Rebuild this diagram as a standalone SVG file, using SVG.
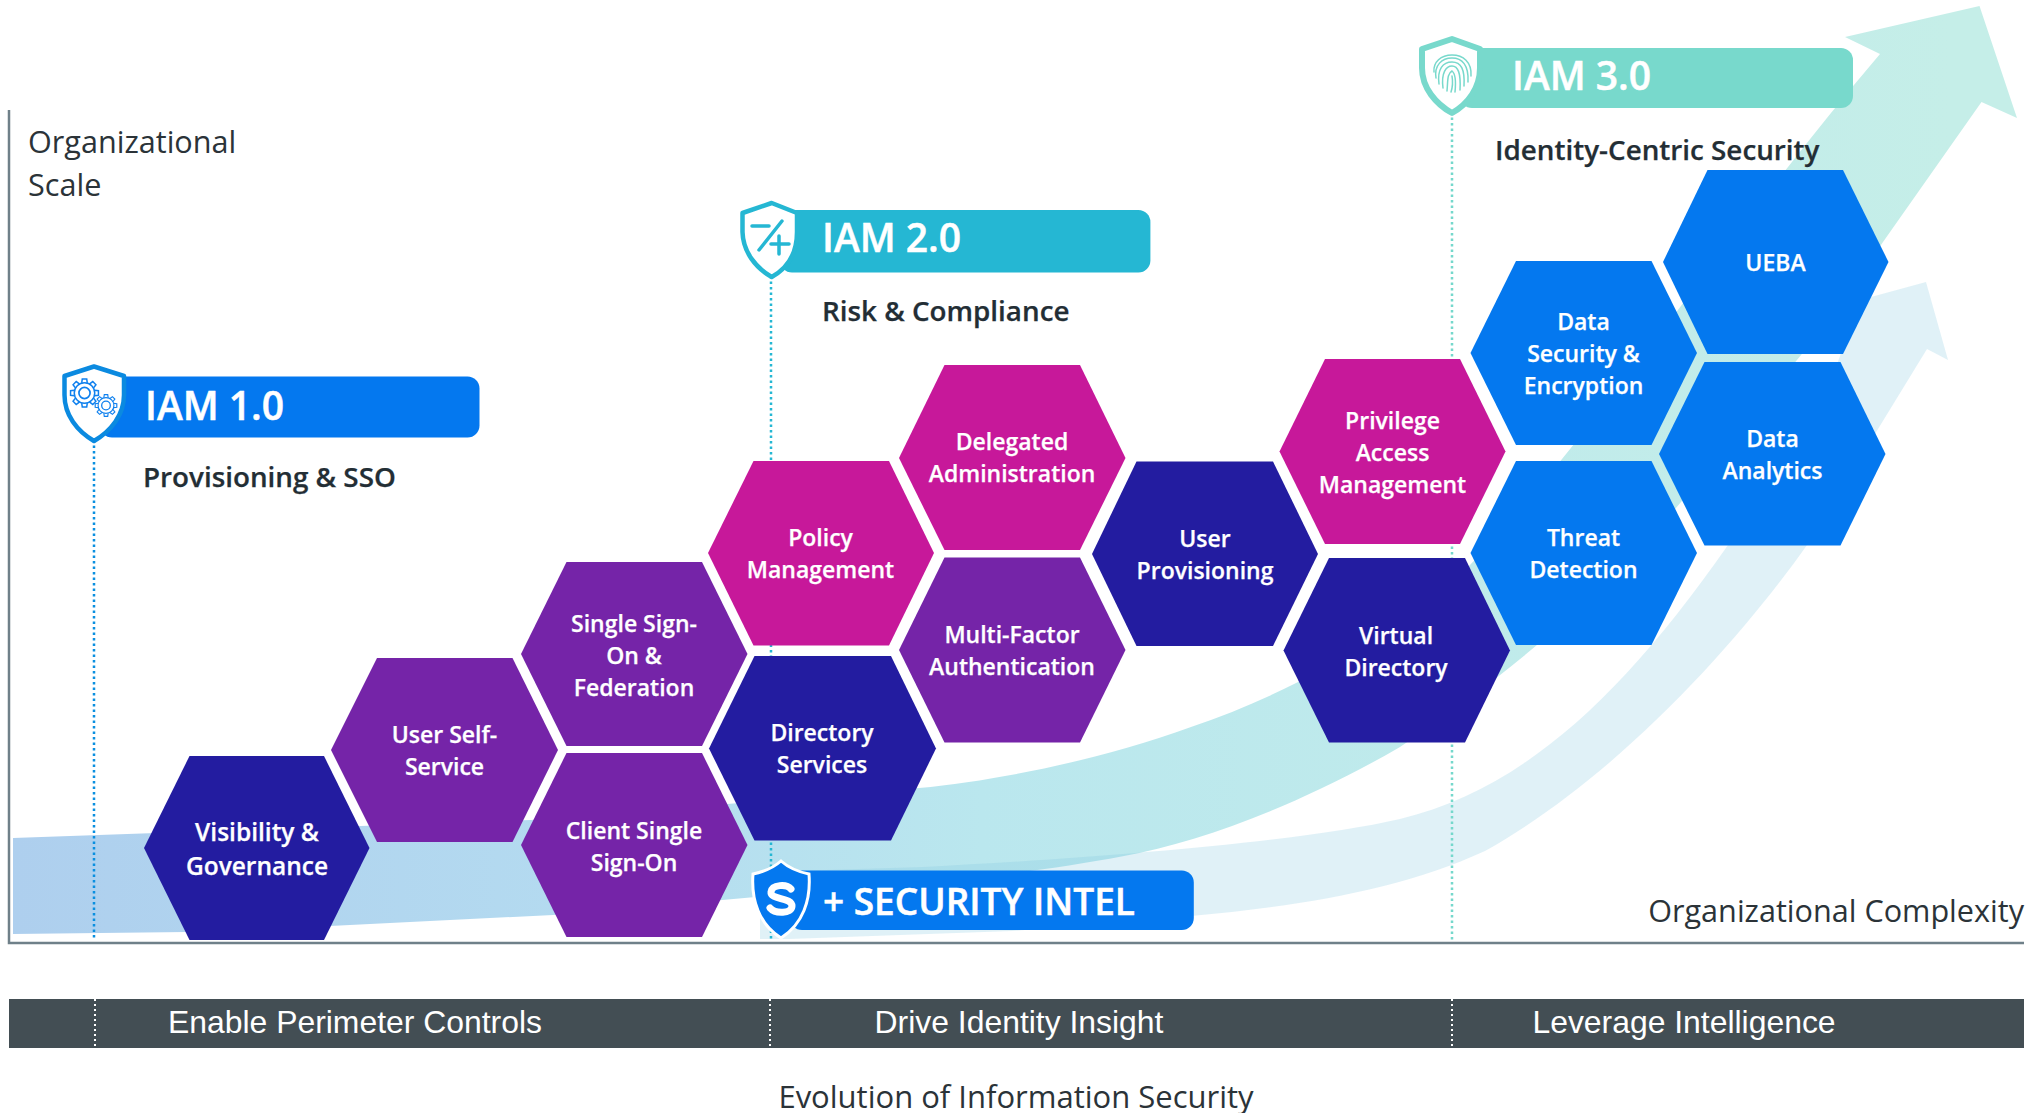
<svg xmlns="http://www.w3.org/2000/svg" width="2037" height="1113" viewBox="0 0 2037 1113">
<style>
text{font-family:"Open Sans","Noto Sans",sans-serif}
.hx{font-size:23px;font-weight:600;fill:#fff;text-anchor:middle;stroke:#fff;stroke-width:.25px}
.hl{font-size:24.500px}
.bt{font-size:39px;font-weight:600;fill:#fff;stroke:#fff;stroke-width:.5px}
.si{font-size:37px}
.st{font-size:27.800px;font-weight:600;fill:#232e35;stroke:#232e35;stroke-width:.25px}
.ax{font-size:30.600px;fill:#2b3338}
.ev{font-size:31px}
.bb{font-family:"Liberation Sans",Arial,sans-serif;font-size:31.900px;fill:#fff;text-anchor:middle}
.navy{fill:#231ca0}.pur{fill:#7524a8}.mag{fill:#c7189a}.blu{fill:#0478ef}
.ic{fill:none;stroke-linecap:round}
</style>
<defs>
<linearGradient id="g1" gradientUnits="userSpaceOnUse" x1="13" y1="0" x2="1950" y2="0">
<stop offset="0" stop-color="#aecfee"/><stop offset=".3" stop-color="#b4dbf0"/><stop offset=".5" stop-color="#bae7ee"/><stop offset="1" stop-color="#c5eee8"/>
</linearGradient>
<g id="t"><path d="M10.800 -3 L15 -2.400 V2.400 L10.800 3" fill="none" stroke="#0f80ee" stroke-width="1.600"/></g>
<g id="gear"><circle r="11" fill="#fff" stroke="#0f80ee" stroke-width="1.600"/><circle r="6" fill="none" stroke="#0f80ee" stroke-width="1.800"/>
<use href="#t"/><use href="#t" transform="rotate(45)"/><use href="#t" transform="rotate(90)"/><use href="#t" transform="rotate(135)"/><use href="#t" transform="rotate(180)"/><use href="#t" transform="rotate(225)"/><use href="#t" transform="rotate(270)"/><use href="#t" transform="rotate(315)"/></g>
</defs>
<g id="arrows">
<path fill="url(#g1)" d="M13 838 L531 820 L727 804 C800 798 860 794 919 788 C1000 780 1100 760 1191 727 C1300 690 1400 630 1470 565 C1590 440 1730 230 1880 54 L1845 37 L1979.500 6 L2017 118 L1981.500 102 L1883 242 L1841 306 L1681 502 C1600 600 1500 680 1400 747 C1300 805 1200 842 1124 856 C1050 870 1000 875 900 884 L700 902 L553 915 L330 926 L187 932 L13 934 Z"/>
<path fill="#7cc4dc" fill-opacity=".24" d="M760 872 L923 867 C1100 858 1300 842 1400 819 C1520 790 1620 700 1728 545 L1835 370 L1860 300 L1926 282 L1948 360 L1927 349 L1878 429 L1807 545 C1740 640 1620 775 1485 851 C1400 890 1300 906 1191 916 L1012 931 L789 939 L760 939 Z"/>
</g>
<g id="axes" fill="none" stroke="#6f8089" stroke-width="2.500">
<path d="M9 110 V943 H2024"/>
</g>
<g id="connectors" fill="none" stroke-width="2.500" stroke-dasharray="2.500 3">
<path stroke="#0a8fe0" d="M94 440 V940"/>
<path stroke="#25b7d3" d="M771 276 V940"/>
<path stroke="#75d8cc" d="M1452 112 V940"/>
</g>
<g id="footer-band">
<rect x="9" y="999" width="2015" height="49" fill="#434e54"/>
<path d="M95 999 V1048 M770 999 V1048 M1452 999 V1048" stroke="#fff" stroke-width="2" stroke-dasharray="2 3" fill="none"/>
<text class="bb" x="355" y="1033">Enable Perimeter Controls</text>
<text class="bb" x="1019" y="1033">Drive Identity Insight</text>
<text class="bb" x="1684" y="1033">Leverage Intelligence</text>
</g>
<text class="ax" x="28" y="153">Organizational</text>
<text class="ax" x="28" y="196">Scale</text>
<text class="ax" x="2024" y="922" text-anchor="end">Organizational Complexity</text>
<text class="ax ev" x="1016" y="1108" text-anchor="middle">Evolution of Information Security</text>

<g id="iam1">
<rect x="100" y="376.500" width="379.500" height="61" rx="12" fill="#0478ef"/>
<path d="M94 366.500 L64.500 376 V395 C64.500 415 77 431 94 441 C111 431 124 415 124 395 V376 Z" fill="#fff" stroke="#0b8ae0" stroke-width="4.500" stroke-linejoin="round"/>
<use href="#gear" transform="translate(84.500 393) scale(.93)"/>
<use href="#gear" transform="translate(106 405.500) scale(.72)"/>
<text class="bt" x="145" y="420">IAM 1.0</text>
<text class="st" x="143" y="487">Provisioning &amp; SSO</text>
</g>
<g id="iam2">
<rect x="780" y="210" width="370.400" height="62.500" rx="12" fill="#25b7d3"/>
<path d="M771.700 203 L742.500 213 V232 C743 252 756 268 771.700 277 C788 268 797 252 797 232 V213 Z" fill="#fff" stroke="#25b7d3" stroke-width="4.500" stroke-linejoin="round"/>
<path class="ic" stroke="#25b7d3" stroke-width="3.500" d="M752 226 H769 M782 221 L759 250 M771 244 H789 M779 236 V254"/>
<text class="bt" x="822" y="252">IAM 2.0</text>
<text class="st" x="822" y="321">Risk &amp; Compliance</text>
</g>
<g id="iam3">
<rect x="1460" y="48" width="393" height="60" rx="12" fill="#78d9cc"/>
<path d="M1452 39 L1422 49 V68 C1422 88 1436 104 1452 113 C1468 104 1480 88 1480 68 V49 Z" fill="#fff" stroke="#78d9cc" stroke-width="6" stroke-linejoin="round"/>
<g class="ic" stroke="#78d9cc" stroke-width="1.500">
<path d="M1434 72 C1433 62 1441 55 1452 55 C1463 55 1472 62 1471 76"/>
<path d="M1436 78 C1434 65 1442 58 1452 58 C1462 58 1469 65 1468 82"/>
<path d="M1439 84 C1437 69 1443 62 1452 62 C1461 62 1465 69 1464 86"/>
<path d="M1443 88 C1441 73 1446 66 1452 66 C1458 66 1461 73 1460 90"/>
<path d="M1447 91 C1448 80 1447 74 1452 71 C1456 74 1456 82 1455 92"/>
<path d="M1452 76 C1453 82 1453 86 1451 92"/>
</g>
<text class="bt" x="1512" y="90">IAM 3.0</text>
<text class="st" x="1495" y="160">Identity-Centric Security</text>
</g>
<g id="security-intel">
<rect x="790" y="870.500" width="403.800" height="59.500" rx="12" fill="#0478ef"/>
<path d="M781 861 C772 869 763 872 753 874 C751 900 759 924 781 938 C803 924 811 900 809 874 C799 872 790 869 781 861 Z" fill="#0478ef" stroke="#fff" stroke-width="3"/>
<path class="ic" stroke="#fff" stroke-width="7" d="M791 889 C787 884 772 884 771 892 C770 900 792 897 792 906 C792 914 775 914 770 908"/>
<text class="bt si" x="823" y="915">+ SECURITY INTEL</text>
</g>

<g id="hex-visibility"><polygon class="navy" points="144,848 189.500,756 324,756 369.500,848 324,940 189.500,940"/><text class="hx hl" x="257" y="841">Visibility &amp;</text><text class="hx hl" x="257" y="875">Governance</text></g>
<g id="hex-user-self"><polygon class="pur" points="331,750 377,658 512.500,658 558,750 512.500,842 377,842"/><text class="hx" x="444.500" y="743">User Self-</text><text class="hx" x="444.500" y="775">Service</text></g>
<g id="hex-sso"><polygon class="pur" points="521,654 566.500,562 702,562 747.500,654 702,746 566.500,746"/><text class="hx" x="634" y="631.500">Single Sign-</text><text class="hx" x="634" y="663.500">On &amp;</text><text class="hx" x="634" y="695.500">Federation</text></g>
<g id="hex-client"><polygon class="pur" points="521,845 566.500,753 702,753 747.500,845 702,937 566.500,937"/><text class="hx" x="634" y="839">Client Single</text><text class="hx" x="634" y="871">Sign-On</text></g>
<g id="hex-policy"><polygon class="mag" points="708,553 753.500,461 889,461 934,553 889,645.500 753.500,645.500"/><text class="hx" x="820.500" y="546">Policy</text><text class="hx" x="820.500" y="578">Management</text></g>
<g id="hex-delegated"><polygon class="mag" points="899,458 944.500,365 1080,365 1125.500,458 1080,550 944.500,550"/><text class="hx" x="1012" y="450">Delegated</text><text class="hx" x="1012" y="482">Administration</text></g>
<g id="hex-mfa"><polygon class="pur" points="899,650 944.500,557.500 1080,557.500 1125.500,650 1080,742.500 944.500,742.500"/><text class="hx" x="1012" y="643">Multi-Factor</text><text class="hx" x="1012" y="675">Authentication</text></g>
<g id="hex-directory"><polygon class="navy" points="709,748.500 754.500,656 891,656 936,748.500 891,840.500 754.500,840.500"/><text class="hx" x="822" y="741">Directory</text><text class="hx" x="822" y="773">Services</text></g>
<g id="hex-user-prov"><polygon class="navy" points="1092,554 1136.500,461.500 1273,461.500 1318,554 1273,646 1136.500,646"/><text class="hx" x="1205" y="547">User</text><text class="hx" x="1205" y="579">Provisioning</text></g>
<g id="hex-privilege"><polygon class="mag" points="1279.500,451.500 1325,359 1460,359 1505.500,451.500 1460,544 1325,544"/><text class="hx" x="1392.500" y="428.500">Privilege</text><text class="hx" x="1392.500" y="460.500">Access</text><text class="hx" x="1392.500" y="492.500">Management</text></g>
<g id="hex-virtual"><polygon class="navy" points="1283.500,650.500 1329,558 1465,558 1510,650.500 1465,742.500 1329,742.500"/><text class="hx" x="1396" y="644">Virtual</text><text class="hx" x="1396" y="676">Directory</text></g>
<g id="hex-datasec"><polygon class="blu" points="1470.500,353 1516,261 1651.500,261 1697,353 1651.500,445 1516,445"/><text class="hx" x="1583.500" y="330">Data</text><text class="hx" x="1583.500" y="362">Security &amp;</text><text class="hx" x="1583.500" y="394">Encryption</text></g>
<g id="hex-threat"><polygon class="blu" points="1470.500,553 1516,461 1651.500,461 1697,553 1651.500,645 1516,645"/><text class="hx" x="1583.500" y="546">Threat</text><text class="hx" x="1583.500" y="578">Detection</text></g>
<g id="hex-analytics"><polygon class="blu" points="1659,454 1704.500,362 1840.500,362 1885.500,454 1840.500,545.500 1704.500,545.500"/><text class="hx" x="1772.500" y="447">Data</text><text class="hx" x="1772.500" y="479">Analytics</text></g>
<g id="hex-ueba"><polygon class="blu" points="1663,262 1707.500,170 1843,170 1888.500,262 1843,354 1707.500,354"/><text class="hx" x="1775.500" y="271">UEBA</text></g>
</svg>
